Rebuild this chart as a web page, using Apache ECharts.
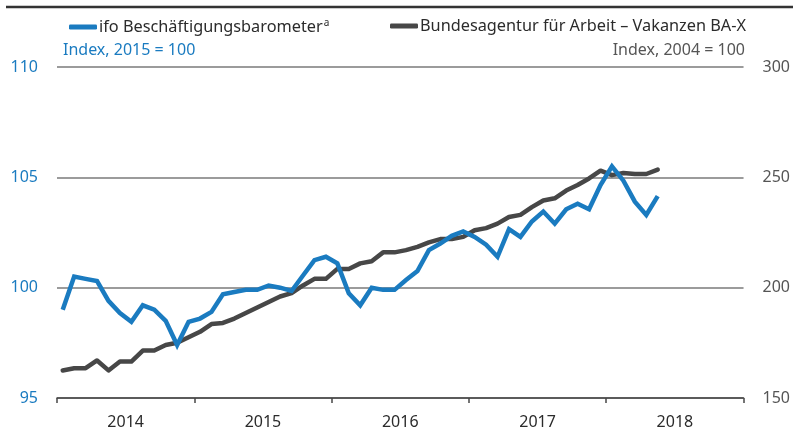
<!DOCTYPE html>
<html>
<head>
<meta charset="utf-8">
<script src="https://cdn.jsdelivr.net/npm/echarts@6/dist/echarts.min.js"></script>
<style>
  html, body { margin: 0; padding: 0; background: #fff; }
  #chart { width: 793px; height: 430px; }
</style>
</head>
<body>
<div id="chart"></div>
<script>
// Monthly observations, January 2014 to May 2018
const years = ['2014', '2015', '2016', '2017', '2018'];

// ifo Beschäftigungsbarometer (Index, 2015 = 100), left axis
const ifoBarometer = [
  99.0, 100.5, 100.4, 100.3, 99.4, 98.85, 98.45, 99.2, 99.0, 98.5, 97.4, 98.45,
  98.6, 98.9, 99.7, 99.8, 99.9, 99.9, 100.1, 100.0, 99.85, 100.55, 101.25, 101.4,
  101.1, 99.75, 99.2, 100.0, 99.9, 99.9, 100.35, 100.75, 101.7, 102.0, 102.35, 102.55,
  102.3, 101.95, 101.4, 102.65, 102.3, 103.0, 103.45, 102.9, 103.55, 103.8, 103.55, 104.65,
  105.5, 104.85, 103.9, 103.3, 104.15
];

// Bundesagentur für Arbeit – Vakanzen BA-X (Index, 2004 = 100), right axis
const baxVacancies = [
  162.5, 163.5, 163.5, 167.0, 162.5, 166.5, 166.5, 171.5, 171.5, 174.0, 175.0, 177.5,
  180.0, 183.5, 184.0, 186.0, 188.5, 191.0, 193.5, 196.0, 197.5, 201.0, 204.0, 204.0,
  208.5, 208.5, 211.0, 212.0, 216.0, 216.0, 217.0, 218.5, 220.5, 222.0, 222.0, 223.0,
  226.0, 227.0, 229.0, 232.0, 233.0, 236.5, 239.5, 240.5, 244.0, 246.5, 249.5, 253.0,
  251.0, 252.0, 251.5, 251.5, 253.5
];

const leftTicks = { min: 95, max: 110, step: 5 };
const rightTicks = { min: 150, max: 300, step: 50 };

// One category per month across the five years shown
const months = [];
years.forEach(y => {
  for (let m = 1; m <= 12; m++) months.push(y + '-' + String(m).padStart(2, '0'));
});

const BLUE = '#1a7bc0';
const DARK = '#474747';
const FONT = '"Noto Sans", "Open Sans", sans-serif';

const NAME_IFO = 'ifo Beschäftigungsbarometer';
const NAME_BAX = 'Bundesagentur für Arbeit – Vakanzen BA-X';

const chart = echarts.init(document.getElementById('chart'), null, { renderer: 'canvas' });

const legendBase = {
  top: 13,
  itemWidth: 28,
  itemHeight: 5,
  itemGap: 4,
  icon: 'roundRect',
  selectedMode: false,
  textStyle: {
    fontFamily: FONT,
    fontSize: 16,
    color: '#2b2b2b',
    padding: [0, 0, 0, -3],
    rich: {
      n: { fontFamily: FONT, fontSize: 16.3, color: '#2b2b2b' },
      s: { fontFamily: FONT, fontSize: 10, color: '#2b2b2b', verticalAlign: 'top', padding: [0, 0, 8, 1] }
    }
  }
};

chart.setOption({
  animation: false,
  backgroundColor: '#fff',
  grid: { left: 57, right: 46, top: 67, bottom: 32, containLabel: false },
  legend: [
    Object.assign({}, legendBase, {
      left: 64,
      data: [NAME_IFO],
      formatter: name => '{n|' + name + '}{s|a}'
    }),
    Object.assign({}, legendBase, {
      left: 385,
      data: [NAME_BAX],
      formatter: name => '{n|' + name + '}'
    })
  ],
  xAxis: [
    {
      type: 'category',
      data: years,
      boundaryGap: true,
      position: 'bottom',
      axisLine: { lineStyle: { color: DARK, width: 1.5 } },
      axisTick: { show: true, length: 5, lineStyle: { color: DARK, width: 1.5 } },
      axisLabel: { fontFamily: FONT, fontSize: 16, color: '#2b2b2b', margin: 16 },
      splitLine: { show: false }
    },
    {
      type: 'category',
      data: months,
      boundaryGap: true,
      show: false
    }
  ],
  yAxis: [
    {
      type: 'value',
      position: 'left',
      min: leftTicks.min,
      max: leftTicks.max,
      interval: leftTicks.step,
      axisLine: { show: false },
      axisTick: { show: false },
      axisLabel: { fontFamily: FONT, fontSize: 16, color: BLUE, margin: 19 },
      splitLine: { show: true, lineStyle: { color: '#7a7a7a', width: 1.5 } }
    },
    {
      type: 'value',
      position: 'right',
      min: rightTicks.min,
      max: rightTicks.max,
      interval: rightTicks.step,
      axisLine: { show: false },
      axisTick: { show: false },
      axisLabel: { fontFamily: FONT, fontSize: 16, color: '#555', margin: 19 },
      splitLine: { show: false }
    }
  ],
  series: [
    {
      name: NAME_BAX,
      type: 'line',
      xAxisIndex: 1,
      yAxisIndex: 1,
      data: baxVacancies,
      showSymbol: false,
      color: DARK,
      lineStyle: { color: DARK, width: 4.5, join: 'round', cap: 'round' },
      z: 3
    },
    {
      name: NAME_IFO,
      type: 'line',
      xAxisIndex: 1,
      yAxisIndex: 0,
      data: ifoBarometer,
      showSymbol: false,
      color: BLUE,
      lineStyle: { color: BLUE, width: 4.5, join: 'miter', cap: 'butt' },
      z: 4
    }
  ],
  graphic: [
    {
      type: 'line',
      shape: { x1: 6, y1: 7, x2: 793, y2: 7 },
      style: { stroke: '#333', lineWidth: 2.5 }
    },
    {
      type: 'text',
      left: 63,
      top: 42,
      style: { text: 'Index, 2015 = 100', fontFamily: FONT, fontSize: 16, fill: BLUE }
    },
    {
      type: 'text',
      right: 48,
      top: 42,
      style: { text: 'Index, 2004 = 100', fontFamily: FONT, fontSize: 16, fill: '#555' }
    }
  ]
});
</script>
</body>
</html>
